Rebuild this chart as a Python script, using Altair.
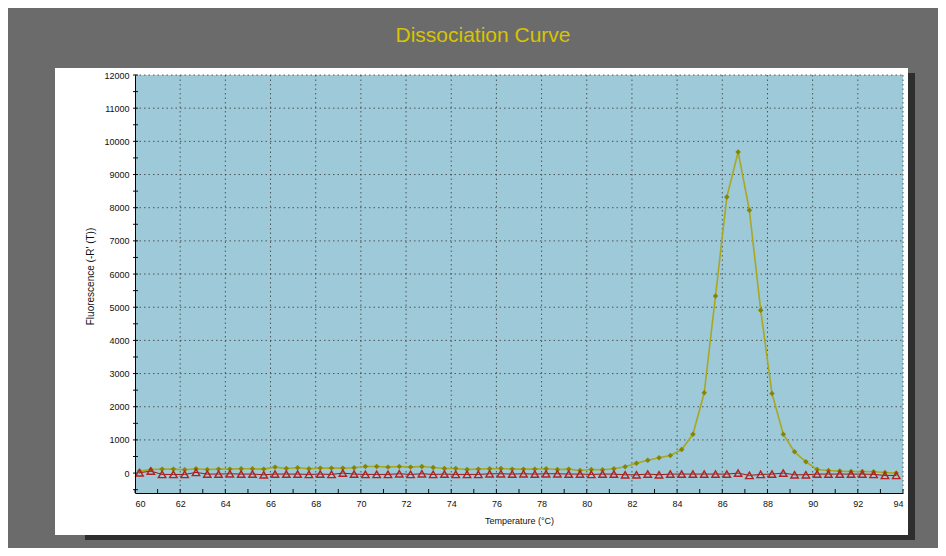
import altair as alt
import pandas as pd

temps = [60.2, 60.7, 61.2, 61.7, 62.2, 62.7, 63.2, 63.7, 64.2, 64.7,
         65.2, 65.7, 66.2, 66.7, 67.2, 67.7, 68.2, 68.7, 69.2, 69.7,
         70.2, 70.7, 71.2, 71.7, 72.2, 72.7, 73.2, 73.7, 74.2, 74.7,
         75.2, 75.7, 76.2, 76.7, 77.2, 77.7, 78.2, 78.7, 79.2, 79.7,
         80.2, 80.7, 81.2, 81.7, 82.2, 82.7, 83.2, 83.7, 84.2, 84.7,
         85.2, 85.7, 86.2, 86.7, 87.2, 87.7, 88.2, 88.7, 89.2, 89.7,
         90.2, 90.7, 91.2, 91.7, 92.2, 92.7, 93.2, 93.7]

sample = [60, 110, 120, 120, 100, 130, 110, 120, 120, 130,
          130, 120, 180, 140, 160, 130, 150, 150, 150, 160,
          200, 200, 180, 200, 180, 200, 170, 140, 140, 110,
          120, 130, 140, 120, 120, 120, 130, 110, 120, 80,
          110, 100, 130, 190, 300, 390, 460, 530, 710, 1170,
          2420, 5340, 8320, 9680, 7920, 4910, 2400, 1170, 640, 340,
          110, 80, 60, 50, 50, 40, 20, 0]

ntc = [10, 60, -40, -40, -40, 20, -30, -30, -20, -30,
       -30, -50, -30, -30, -30, -40, -30, -40, 0, -30,
       -40, -40, -40, -20, -40, -20, -40, -30, -40, -40,
       -40, -20, -20, -30, -20, -30, -20, -20, -30, -30,
       -40, -30, -30, -50, -50, -30, -50, -30, -30, -30,
       -30, -30, -30, 0, -70, -40, -30, 0, -50, -50,
       -30, -30, -30, -30, -30, -40, -70, -70]

x_labels = [60, 62, 64, 66, 68, 70, 72, 74, 76, 78, 80, 82, 84, 86, 88, 90, 92, 94]
x_minor = [60, 61, 62, 63, 64, 65, 66, 67, 68, 69, 70, 71, 72, 73, 74, 75, 76, 77,
           78, 79, 80, 81, 82, 83, 84, 85, 86, 87, 88, 89, 90, 91, 92, 93, 94]
x_grid = [62, 64, 66, 68, 70, 72, 74, 76, 78, 80, 82, 84, 86, 88, 90, 92, 94]
y_labels = [0, 1000, 2000, 3000, 4000, 5000, 6000, 7000, 8000, 9000, 10000, 11000, 12000]
y_minor = [-500, 0, 500, 1000, 1500, 2000, 2500, 3000, 3500, 4000, 4500, 5000, 5500, 6000,
           6500, 7000, 7500, 8000, 8500, 9000, 9500, 10000, 10500, 11000, 11500, 12000]
y_grid = [1000, 2000, 3000, 4000, 5000, 6000, 7000, 8000, 9000, 10000, 11000, 12000]

W, H = 768, 418
xs = alt.Scale(domain=[60, 94], nice=False, zero=False)
ys = alt.Scale(domain=[-600, 12000], nice=False, zero=False)

x_axis = alt.Axis(values=x_labels, format="d", title="Temperature (°C)", grid=False,
                  ticks=False, tickSize=0, labelPadding=6, domainColor="#000000",
                  domainWidth=1, labelFont="Liberation Sans", labelFontSize=9,
                  labelColor="#111111", titleFont="Liberation Sans",
                  titleFontSize=9, titleFontWeight="normal", titleColor="#111111",
                  titleY=27, titleBaseline="middle", titleX=384, zindex=1)
y_axis = alt.Axis(values=y_labels, format="d", title="Fluorescence (-R' (T))", grid=False,
                  ticks=False, tickSize=0, labelPadding=6, domainColor="#000000",
                  domainWidth=1, labelFont="Liberation Sans", labelFontSize=9,
                  labelColor="#111111", titleFont="Liberation Sans",
                  titleFontSize=10, titleFontWeight="normal", titleColor="#111111",
                  titleX=-45, titleY=201, titleBaseline="middle", zindex=1)

X = alt.X("t:Q", scale=xs, axis=x_axis)
Y = alt.Y("v:Q", scale=ys, axis=y_axis)

one = pd.DataFrame({"k": [0]})
df_s = pd.DataFrame({"t": temps, "v": sample})
df_n = pd.DataFrame({"t": temps, "v": ntc})

shadow = alt.Chart(one).mark_rect(color="#2e2e2e").encode(
    x=alt.value(-50), x2=alt.value(780), y=alt.value(-2), y2=alt.value(465))
panel = alt.Chart(one).mark_rect(color="#ffffff").encode(
    x=alt.value(-80), x2=alt.value(773), y=alt.value(-7), y2=alt.value(460))
plotbg = alt.Chart(one).mark_rect(color="#9dc9d8").encode(
    x=alt.value(0), x2=alt.value(W), y=alt.value(0), y2=alt.value(H))

title = alt.Chart(one).mark_text(
    text="Dissociation Curve", font="Liberation Sans", fontSize=21,
    color="#d8c400", align="center", baseline="middle").encode(
    x=alt.value(348), y=alt.value(-39))

gx = alt.Chart(pd.DataFrame({"t": x_grid})).mark_rule(
    color="#3a3a3a", strokeDash=[1.5, 3], strokeWidth=1, opacity=0.8).encode(
    x=X, y=alt.value(0), y2=alt.value(H))
gy = alt.Chart(pd.DataFrame({"v": y_grid})).mark_rule(
    color="#3a3a3a", strokeDash=[1.5, 3], strokeWidth=1, opacity=0.8).encode(
    y=Y, x=alt.value(0), x2=alt.value(W))

tx = alt.Chart(pd.DataFrame({"t": x_minor})).mark_rule(color="#111111", strokeWidth=1).encode(
    x=X, y=alt.value(H - 4), y2=alt.value(H))
ty = alt.Chart(pd.DataFrame({"v": y_minor})).mark_rule(color="#111111", strokeWidth=1).encode(
    y=Y, x=alt.value(-2), x2=alt.value(3))

s_line = alt.Chart(df_s).mark_line(color="#a8a822", strokeWidth=1.6).encode(x=X, y=Y)
s_pts = alt.Chart(df_s).mark_point(shape="diamond", filled=True, color="#858500",
                                   size=30, opacity=1).encode(x=X, y=Y)

n_line = alt.Chart(df_n).mark_line(color="#9a1a1a", strokeWidth=1).encode(x=X, y=Y)
n_pts = alt.Chart(df_n).mark_point(shape="triangle-up", filled=False, color="#b22222",
                                   strokeWidth=1.4, size=55, opacity=1).encode(x=X, y=Y)

chart = alt.layer(
    shadow, panel, plotbg, title, gx, gy, tx, ty, s_line, s_pts, n_line, n_pts
).properties(
    width=W, height=H,
    autosize=alt.AutoSizeParams(type="none"),
    padding={"left": 127, "top": 67, "right": 35, "bottom": 55},
    background="#6b6b6b",
).configure_view(strokeWidth=0)

chart.save("out.html", embed_options={"renderer": "svg", "actions": False})
